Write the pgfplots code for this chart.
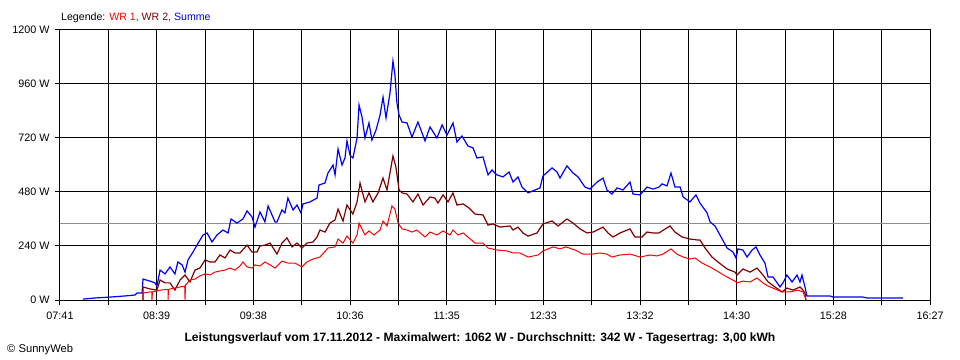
\documentclass[border=0pt]{standalone}
\usepackage{pgfplots}
\pgfplotsset{compat=1.18}
\usepackage{pgfplotstable}
\usepackage{fontspec}
\setmainfont{Liberation Sans}
\usetikzlibrary{calc}
\definecolor{wrone}{RGB}{255,0,0}
\definecolor{wrtwo}{RGB}{128,0,0}
\definecolor{summe}{RGB}{0,0,255}
\definecolor{avgc}{RGB}{140,140,140}

% t = minutes since 07:41, P = power in W
\pgfplotstableread{
t P
13.9 4
21.2 9
30.2 13
39.3 18
45.3 22
46.6 31
49.6 31
50.2 93
54.4 84
57.4 76
58.6 62
60.5 133
63.5 116
66.5 147
69.5 116
71.3 169
73.8 156
75.6 124
77.4 178
80.4 213
82.8 244
86.5 289
88.9 298
91.9 258
94.9 289
98.5 311
101.6 298
103.4 360
107.0 342
110.6 360
113.1 396
116.1 369
117.9 324
120.9 391
123.9 347
125.8 418
130.0 347
131.2 347
134.2 400
136.0 387
137.8 453
140.9 400
143.3 422
145.7 387
146.9 427
151.2 436
155.4 453
156.6 511
160.2 520
162.0 564
165.1 600
166.3 556
168.1 671
170.5 600
172.3 631
173.5 707
175.3 644
177.1 631
179.6 720
180.8 867
182.6 813
184.4 720
186.8 787
188.6 711
191.1 756
193.5 822
195.3 902
197.1 809
199.5 920
201.3 1062
202.5 1000
203.7 876
205.0 822
206.8 791
209.8 787
212.8 724
216.4 791
220.7 707
223.7 769
227.9 720
231.0 778
234.0 733
237.6 787
240.0 702
243.0 729
246.7 684
249.7 676
252.1 631
255.7 636
258.8 556
261.2 578
264.2 556
267.8 547
271.5 569
273.9 524
276.9 547
279.3 502
283.0 476
287.2 489
290.2 498
292.0 551
297.5 587
300.5 569
302.3 542
306.5 596
310.2 564
313.2 547
317.4 502
320.4 493
324.7 524
328.3 542
330.7 489
333.7 471
336.8 498
340.4 489
344.6 524
346.4 471
350.7 467
354.9 502
358.5 493
362.2 502
364.0 516
367.0 507
369.4 564
371.8 502
374.9 502
376.7 458
380.9 436
384.5 467
386.9 431
391.2 387
393.0 347
396.0 329
399.0 289
403.3 231
406.9 213
408.7 187
409.9 227
412.9 222
415.4 191
418.4 222
420.8 236
423.2 200
426.2 164
428.1 102
431.1 102
435.3 58
437.1 76
439.5 111
442.6 80
445.6 111
447.4 80
448.6 111
450.4 58
451.6 18
459.5 18
465.5 18
467.4 13
485.5 13
487.9 9
509.7 9
}\summe

\pgfplotstableread{
t P
50.2 0
50.2 58
54.4 49
58.6 44
60.5 89
63.5 76
66.5 76
69.5 44
72.6 89
75.6 111
78.6 80
81.6 133
84.6 142
87.7 178
90.7 169
93.7 169
96.7 200
99.8 187
102.8 222
105.8 209
108.8 209
113.1 244
116.1 213
119.1 213
120.9 240
123.9 244
127.0 253
131.2 204
134.2 253
137.2 276
140.3 236
143.3 253
146.3 231
149.3 253
153.0 258
155.4 280
157.2 311
160.2 302
163.2 342
166.3 356
168.1 404
171.1 351
173.5 422
177.1 382
179.6 436
181.4 520
184.4 436
186.8 476
189.2 436
192.3 476
195.3 542
197.7 489
201.3 640
203.1 591
205.0 489
206.8 476
209.8 471
213.4 436
216.4 471
219.5 422
223.7 458
226.7 453
228.5 431
231.6 467
234.6 436
237.6 476
240.0 422
243.7 427
247.3 409
250.9 382
255.7 378
258.8 333
261.8 338
266.0 324
272.1 329
273.9 311
276.9 324
279.9 298
283.0 284
288.4 298
292.0 338
297.5 351
301.1 329
306.5 360
310.2 342
314.4 316
318.6 298
322.3 302
328.3 324
331.3 298
334.3 280
338.6 298
344.6 316
347.6 280
351.9 280
354.9 302
358.5 298
362.2 298
364.0 307
368.8 329
371.8 302
376.1 280
380.9 271
385.1 267
386.9 267
390.0 231
394.2 191
397.8 169
403.3 138
408.1 124
409.3 111
412.9 138
417.2 124
421.4 142
425.0 111
428.1 80
432.3 58
436.5 36
439.5 53
443.2 44
447.4 58
449.2 44
450.4 31
451.0 0
}\wrtwo

\pgfplotstableread{
t P
50.2 0
50.2 31
54.4 36
55.6 36
55.6 0
55.9 36
60.5 44
65.3 47
65.3 0
65.6 47
66.5 49
72.6 58
75.4 62
75.6 0
75.9 67
78.6 89
81.6 93
84.6 107
87.7 116
90.7 111
93.7 124
96.7 129
99.8 133
102.8 142
105.8 133
108.8 151
110.6 169
113.1 147
116.1 142
117.9 156
120.9 151
123.9 169
127.0 156
130.0 142
134.2 173
137.8 164
142.1 164
146.3 147
149.3 169
153.0 182
157.2 191
162.0 231
166.3 236
168.1 271
171.1 253
173.5 284
177.1 253
179.6 289
180.8 342
184.4 289
186.8 307
189.8 289
193.5 311
195.3 351
197.7 329
200.7 418
202.5 404
204.4 342
206.8 316
209.8 311
212.8 302
215.8 311
220.7 280
223.7 302
227.9 289
231.6 307
235.8 289
237.6 311
240.6 289
243.7 298
247.3 276
250.9 253
255.7 253
258.8 231
264.2 222
270.3 218
273.9 209
278.1 209
283.0 191
289.0 200
292.0 218
298.1 236
302.3 227
305.9 236
311.4 222
316.2 204
321.7 204
326.5 209
330.7 204
333.7 191
338.6 200
344.6 204
350.7 191
356.7 200
360.9 196
364.6 204
369.4 227
373.0 204
376.7 191
380.9 182
383.9 187
388.2 164
393.0 147
397.2 129
403.3 102
408.1 84
409.3 76
412.9 84
417.2 80
421.4 98
425.0 76
428.1 62
432.3 49
436.5 36
441.4 36
446.2 44
449.2 36
450.4 13
451.0 0
}\wrone

\begin{document}
\begin{tikzpicture}
\begin{axis}[name=ax, at={(0,0)}, anchor=south west,
  scale only axis, width=870bp, height=270bp,
  xmin=0, xmax=526, ymin=0, ymax=1200,
  xtick={0,29.222,58.444,87.667,116.889,146.111,175.333,204.556,233.778,263,292.222,321.444,350.667,379.889,409.111,438.333,467.556,496.778,526},
  xticklabels={07:41,,08:39,,09:38,,10:36,,11:35,,12:33,,13:32,,14:30,,15:28,,16:27},
  ytick={0,240,480,720,960,1200},
  yticklabels={0 W,240 W,480 W,720 W,960 W,1200 W},
  grid=major, major grid style={black, line width=1bp},
  axis line style={black, line width=1bp},
  tick align=outside, tick pos=left, major tick length=5bp,
  tick style={black, line width=1bp},
  ticklabel style={font=\fontsize{10.8bp}{12bp}\selectfont},
  xticklabel style={yshift=-3bp},
  yticklabel style={xshift=-2bp},
  clip=false,
]
\addplot[avgc, line width=1bp, forget plot] coordinates {(0,342) (526,342)};
\addplot[summe, line width=1.2bp] table[x=t, y=P] {\summe};
\addplot[wrtwo, line width=1.2bp] table[x=t, y=P] {\wrtwo};
\addplot[wrone, line width=1bp] table[x=t, y=P] {\wrone};
\end{axis}
\pgfresetboundingbox
\path[use as bounding box] ($(ax.south west)+(-60bp,-60bp)$) rectangle ($(ax.north east)+(30bp,30bp)$);
\node[anchor=base west, inner sep=0, font=\fontsize{10.6bp}{12bp}\selectfont] at ($(ax.north west)+(1bp,9bp)$)
  {Legende: \textcolor{wrone}{WR 1,} \textcolor{wrtwo}{WR 2,} \textcolor{summe}{Summe}};
\node[anchor=base, inner sep=0, font=\fontsize{12.1bp}{14bp}\selectfont\bfseries] at ($(ax.south west)+(420bp,-41bp)$)
  {Leistungsverlauf vom 17.11.2012 - Maximalwert: 1062 W - Durchschnitt: 342 W - Tagesertrag: 3,00 kWh};
\node[anchor=base west, inner sep=0, font=\fontsize{11.2bp}{13bp}\selectfont] at ($(ax.south west)+(-53bp,-52bp)$)
  {\textcopyright{} SunnyWeb};
\end{tikzpicture}
\end{document}
